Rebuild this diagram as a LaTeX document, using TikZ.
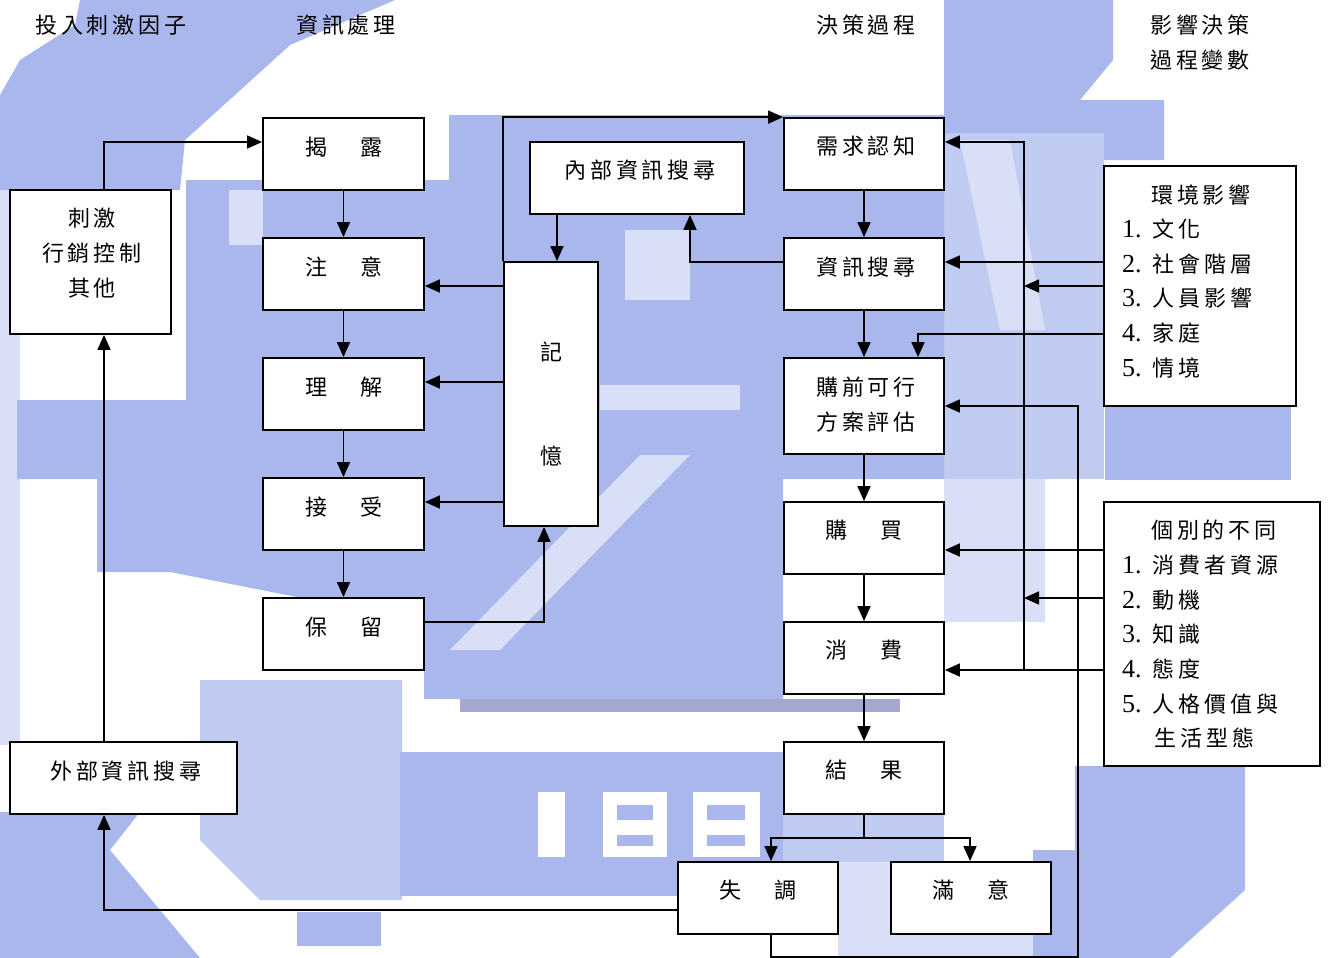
\documentclass[tikz,border=0pt]{standalone}
\usepackage{fontspec}
\setmainfont{Liberation Serif}
\newfontfamily\cjk{Noto Sans CJK TC}
\newfontfamily\cjks[LetterSpace=18]{Noto Sans CJK TC}
\usetikzlibrary{arrows.meta}
\definecolor{wm}{RGB}{170,183,236}
\definecolor{wmc}{RGB}{192,203,242}
\definecolor{wmb}{RGB}{216,223,247}
\definecolor{wmg}{RGB}{162,168,206}
\newcommand{\pairtxt}[2]{#1\hspace{33pt}#2}
\newcommand{\itm}[2]{{\rmfamily\fontsize{26}{26}\selectfont #1.}\hspace{11pt}{\cjks #2}}
\tikzset{
  box/.style={draw=black, line width=1.8pt, fill=white, inner sep=0pt},
  lbl/.style={inner sep=0pt, font=\cjks\fontsize{22}{26}\selectfont, text=black},
  lbltwo/.style={inner sep=0pt, font=\cjk\fontsize{22}{26}\selectfont, text=black},
  item/.style={inner sep=0pt, anchor=west, font=\cjks\fontsize{22}{26}\selectfont, text=black},
  arr/.style={line width=1.6pt, -{Triangle[length=15pt,width=13pt]}},
  ln/.style={line width=1.6pt},
}
\begin{document}
\begin{tikzpicture}[x=1pt,y=-1pt]
\useasboundingbox (0,0) rectangle (1328,958);
% ---------- watermark (pixelated emblem, approximated) ----------
\fill[wmb] (0,190) rectangle (20,745);
\fill[wm] (80,0) -- (395,0) -- (290,45) -- (235,95) -- (185,140) -- (180,190) -- (0,190) -- (0,95) -- (20,60) -- (75,25) -- cycle;
\fill[wm] (944,0) -- (1113,0) -- (1113,60) -- (1080,100) -- (1164,100) -- (1164,160) -- (1040,160) -- (990,133) -- (944,133) -- cycle;
\fill[wmc] (944,133) rectangle (1104,479);
\fill[wmb] (960,140) -- (1010,140) -- (1045,330) -- (1000,330) -- cycle;
\fill[wmb] (944,479) rectangle (1045,622);
\fill[wm] (186,180) -- (449,180) -- (449,115) -- (944,115) -- (944,479) -- (783,479) -- (783,699) -- (424,699) -- (424,622) -- (170,572) -- (97,572) -- (97,479) -- (17,479) -- (17,400) -- (186,400) -- cycle;
\fill[wmb] (640,455) -- (690,455) -- (500,650) -- (450,650) -- cycle;
\fill[wmb] (625,230) rectangle (690,300);
\fill[wmb] (600,385) rectangle (740,410);
\fill[wmb] (229,190) rectangle (263,245);
\fill[wmc] (200,680) -- (402,680) -- (402,900) -- (260,900) -- (200,840) -- cycle;
\fill[wmg] (460,699) rectangle (900,712);
\fill[wm] (400,752) rectangle (783,896);
\fill[wmc] (783,814) rectangle (944,862);
\fill[white] (538,792) rectangle (565,857);
\fill[white] (603,792) rectangle (667,857);
\fill[wm] (617,805) rectangle (653,820);
\fill[wm] (617,835) rectangle (653,846);
\fill[white] (693,792) rectangle (760,857);
\fill[wm] (707,805) rectangle (745,820);
\fill[wm] (707,835) rectangle (745,846);
\fill[wm] (0,812) -- (140,812) -- (110,850) -- (200,958) -- (0,958) -- cycle;
\fill[wm] (297,912) rectangle (381,946);
\fill[wm] (1105,403) rectangle (1291,480);
\fill[wm] (1075,766) -- (1245,766) -- (1245,890) -- (1170,958) -- (1075,958) -- cycle;
\fill[wm] (1033,850) rectangle (1080,958);
\fill[wmb] (838,862) rectangle (1033,958);
% ---------- headers ----------
\node[lbl] (h1) at (111,25) {投入刺激因子};
\node[lbl] (h2) at (346,25) {資訊處理};
\node[lbl] (h3) at (866,25) {決策過程};
\node[lbl] (h4a) at (1200,25) {影響決策};
\node[lbl] (h4b) at (1200,60) {過程變數};
% ---------- boxes ----------
\node[box, minimum width=161pt, minimum height=144pt] (stim) at (90.5,262) {};
\node[box, minimum width=227pt, minimum height=72pt] (ext) at (123.5,778) {};
\node[box, minimum width=161pt, minimum height=72pt] (jielu) at (343.5,154) {};
\node[box, minimum width=161pt, minimum height=72pt] (zhuyi) at (343.5,274) {};
\node[box, minimum width=161pt, minimum height=72pt] (lijie) at (343.5,394) {};
\node[box, minimum width=161pt, minimum height=72pt] (jieshou) at (343.5,514) {};
\node[box, minimum width=161pt, minimum height=72pt] (baoliu) at (343.5,634) {};
\node[box, minimum width=94pt, minimum height=264pt] (mem) at (551,394) {};
\node[box, minimum width=214pt, minimum height=72pt] (intsearch) at (637,178) {};
\node[box, minimum width=160pt, minimum height=72pt] (need) at (864,154) {};
\node[box, minimum width=160pt, minimum height=72pt] (isearch) at (864,274) {};
\node[box, minimum width=160pt, minimum height=96pt] (eval) at (864,406) {};
\node[box, minimum width=160pt, minimum height=72pt] (buy) at (864,538) {};
\node[box, minimum width=160pt, minimum height=72pt] (consume) at (864,658) {};
\node[box, minimum width=160pt, minimum height=72pt] (result) at (864,778) {};
\node[box, minimum width=160pt, minimum height=72pt] (disson) at (758,898) {};
\node[box, minimum width=160pt, minimum height=72pt] (satisf) at (971,898) {};
\node[box, minimum width=192pt, minimum height=240pt] (env) at (1200,286) {};
\node[box, minimum width=216pt, minimum height=264pt] (indiv) at (1212,634) {};
% ---------- box texts ----------
\node[lbl] (stim-a) at (92,218) {刺激};
\node[lbl] (stim-b) at (92,253) {行銷控制};
\node[lbl] (stim-c) at (92,288) {其他};
\node[lbl] (ext-t) at (126,771) {外部資訊搜尋};
\node[lbltwo] (jielu-t) at (343.5,147) {\pairtxt{揭}{露}};
\node[lbltwo] (zhuyi-t) at (343.5,267) {\pairtxt{注}{意}};
\node[lbltwo] (lijie-t) at (343.5,387) {\pairtxt{理}{解}};
\node[lbltwo] (jieshou-t) at (343.5,507) {\pairtxt{接}{受}};
\node[lbltwo] (baoliu-t) at (343.5,627) {\pairtxt{保}{留}};
\node[lbltwo] (mem-a) at (551,352) {記};
\node[lbltwo] (mem-b) at (551,456) {憶};
\node[lbl] (int-t) at (640,170) {內部資訊搜尋};
\node[lbl] (need-t) at (866,146) {需求認知};
\node[lbl] (isearch-t) at (866,267) {資訊搜尋};
\node[lbl] (eval-a) at (866,387) {購前可行};
\node[lbl] (eval-b) at (866,422) {方案評估};
\node[lbltwo] (buy-t) at (864,530) {\pairtxt{購}{買}};
\node[lbltwo] (consume-t) at (864,650) {\pairtxt{消}{費}};
\node[lbltwo] (result-t) at (864,770) {\pairtxt{結}{果}};
\node[lbltwo] (disson-t) at (758,890) {\pairtxt{失}{調}};
\node[lbltwo] (satisf-t) at (971,890) {\pairtxt{滿}{意}};
\node[lbl] (env-t) at (1201,195) {環境影響};
\node[item] (env-1) at (1122,229) {\itm{1}{文化}};
\node[item] (env-2) at (1122,264) {\itm{2}{社會階層}};
\node[item] (env-3) at (1122,298) {\itm{3}{人員影響}};
\node[item] (env-4) at (1122,333) {\itm{4}{家庭}};
\node[item] (env-5) at (1122,368) {\itm{5}{情境}};
\node[lbl] (indiv-t) at (1214,530) {個別的不同};
\node[item] (indiv-1) at (1122,565) {\itm{1}{消費者資源}};
\node[item] (indiv-2) at (1122,600) {\itm{2}{動機}};
\node[item] (indiv-3) at (1122,634) {\itm{3}{知識}};
\node[item] (indiv-4) at (1122,669) {\itm{4}{態度}};
\node[item] (indiv-5) at (1122,704) {\itm{5}{人格價值與}};
\node[item] (indiv-6) at (1154,738) {生活型態};
% ---------- coordinates ----------
\coordinate (split) at (864,838);
\coordinate (bustop) at (1024,142);
\coordinate (busbot) at (1024,670);
\coordinate (loopa) at (771,957);
\coordinate (loopb) at (1078,957);
\coordinate (loopc) at (1078,406);
% ---------- connectors: information processing ----------
\draw[arr] (stim.north -| 104,0) |- (jielu.west |- 0,142);
\draw[arr] (jielu.south) -- (zhuyi.north);
\draw[arr] (zhuyi.south) -- (lijie.north);
\draw[arr] (lijie.south) -- (jieshou.north);
\draw[arr] (jieshou.south) -- (baoliu.north);
\draw[arr] (mem.west |- 0,286) -- (zhuyi.east |- 0,286);
\draw[arr] (mem.west |- 0,382) -- (lijie.east |- 0,382);
\draw[arr] (mem.west |- 0,502) -- (jieshou.east |- 0,502);
\draw[arr] (baoliu.east |- 0,622) -| (mem.south -| 544,0);
\draw[arr] (mem.north west) |- (need.north west);
\draw[arr] (intsearch.south -| 557,0) -- (mem.north -| 557,0);
\draw[arr] (isearch.west |- 0,262) -| (intsearch.south -| 690,0);
\draw[arr] (ext.north -| 104,0) -- (stim.south -| 104,0);
\draw[arr] (disson.west |- 0,910) -| (ext.south -| 104,0);
% ---------- decision process ----------
\draw[arr] (need.south) -- (isearch.north);
\draw[arr] (isearch.south) -- (eval.north);
\draw[arr] (eval.south) -- (buy.north);
\draw[arr] (buy.south) -- (consume.north);
\draw[arr] (consume.south) -- (result.north);
\draw[ln] (result.south) -- (split);
\draw[arr] (split) -| (disson.north -| 771,0);
\draw[arr] (split) -| (satisf.north -| 970,0);
\draw[arr] (disson.south -| 771,0) -- (loopa) -- (loopb) -- (loopc) -- (eval.east |- loopc);
% ---------- influences ----------
\draw[arr] (busbot) -- (bustop) -- (need.east |- bustop);
\draw[arr] (env.west |- 0,262) -- (isearch.east |- 0,262);
\draw[arr] (env.west |- 0,286) -- (1024,286);
\draw[arr] (env.west |- 0,334) -| (eval.north -| 918,0);
\draw[arr] (indiv.west |- 0,550) -- (buy.east |- 0,550);
\draw[arr] (indiv.west |- 0,598) -- (1024,598);
\draw[arr] (indiv.west |- busbot) -- (consume.east |- busbot);
\end{tikzpicture}
\end{document}
